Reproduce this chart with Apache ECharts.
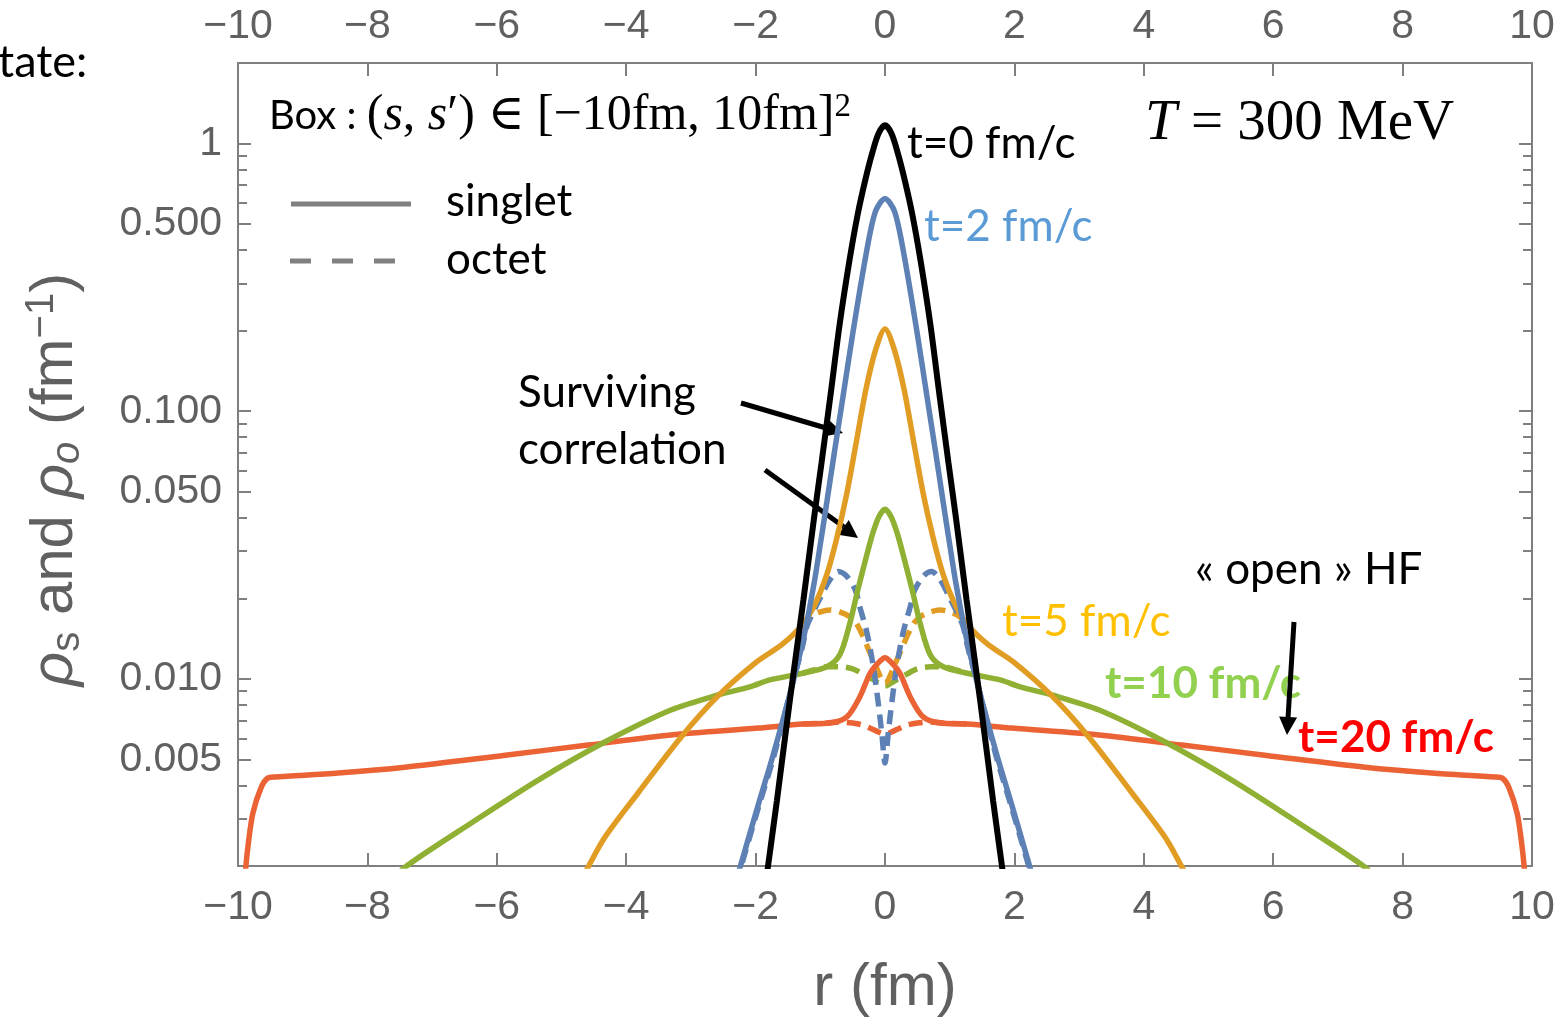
<!DOCTYPE html>
<html>
<head>
<meta charset="utf-8">
<script src="https://cdn.jsdelivr.net/npm/echarts@6/dist/echarts.min.js"></script>
<style>
html, body { margin: 0; padding: 0; background: #fff; }
#chart { width: 1561px; height: 1023px; }
</style>
</head>
<body>
<div id="chart"></div>
<script>
// r (fm) and density (fm^-1)
var rT0 = [-1.9, -1.81, -1.67, -1.47, -1.26, -1.1, -0.98, -0.84, -0.7, -0.55, -0.42, -0.3, -0.2, -0.1, 0,
  0.1, 0.2, 0.3, 0.42, 0.55, 0.7, 0.84, 0.98, 1.1, 1.26, 1.47, 1.67, 1.81, 1.9];
var singletT0 = [0.00136, 0.00198, 0.00352, 0.00834, 0.0198, 0.0394, 0.0644, 0.116, 0.212, 0.365, 0.547, 0.739, 0.917, 1.09, 1.17,
  1.09, 0.917, 0.739, 0.547, 0.365, 0.212, 0.116, 0.0644, 0.0394, 0.0198, 0.00834, 0.00352, 0.00198, 0.00136];

var rT2 = [-2.3, -2.24, -1.96, -1.73, -1.47, -1.27, -1.1, -1.0, -0.9, -0.78, -0.65, -0.5, -0.3, -0.15, 0,
  0.15, 0.3, 0.5, 0.65, 0.78, 0.9, 1.0, 1.1, 1.27, 1.47, 1.73, 1.96, 2.24, 2.3];
var singletT2 = [0.00177, 0.00198, 0.00338, 0.00519, 0.00879, 0.0138, 0.0225, 0.0318, 0.0456, 0.0709, 0.113, 0.194, 0.377, 0.556, 0.622,
  0.556, 0.377, 0.194, 0.113, 0.0709, 0.0456, 0.0318, 0.0225, 0.0138, 0.00879, 0.00519, 0.00338, 0.00198, 0.00177];
var rT2o = [-2.3, -1.96, -1.73, -1.47, -1.27, -1.2, -1.0, -0.85, -0.72, -0.6, -0.46, -0.39, -0.28, -0.18, -0.11, -0.05, 0,
  0.05, 0.11, 0.18, 0.28, 0.39, 0.46, 0.6, 0.72, 0.85, 1.0, 1.2, 1.27, 1.47, 1.73, 1.96, 2.3];
var octetT2 = [0.00172, 0.00329, 0.00502, 0.00879, 0.0134, 0.0159, 0.0201, 0.0235, 0.0252, 0.0243, 0.0215, 0.0186, 0.0149, 0.0111, 0.00834, 0.00628, 0.00485,
  0.00628, 0.00834, 0.0111, 0.0149, 0.0186, 0.0215, 0.0243, 0.0252, 0.0235, 0.0201, 0.0159, 0.0134, 0.00879, 0.00502, 0.00329, 0.00172];

var rT5 = [-4.7, -4.59, -4.33, -3.82, -3.15, -2.58, -1.98, -1.6, -1.3, -1.1, -0.9, -0.75, -0.6, -0.45, -0.3, -0.15, 0,
  0.15, 0.3, 0.45, 0.6, 0.75, 0.9, 1.1, 1.3, 1.6, 1.98, 2.58, 3.15, 3.82, 4.33, 4.59, 4.7];
var singletT5 = [0.00177, 0.00198, 0.00256, 0.00374, 0.00607, 0.00864, 0.0116, 0.0134, 0.0157, 0.0186, 0.0245, 0.0332, 0.048, 0.0752, 0.119, 0.168, 0.203,
  0.168, 0.119, 0.0752, 0.048, 0.0332, 0.0245, 0.0186, 0.0157, 0.0134, 0.0116, 0.00864, 0.00607, 0.00374, 0.00256, 0.00198, 0.00177];
var rT5o = [-1.3, -1.15, -1.0, -0.85, -0.7, -0.55, -0.45, -0.35, -0.25, -0.15, -0.05, 0,
  0.05, 0.15, 0.25, 0.35, 0.45, 0.55, 0.7, 0.85, 1.0, 1.15, 1.3];
var octetT5 = [0.0157, 0.0171, 0.0178, 0.0181, 0.0178, 0.0171, 0.0162, 0.0146, 0.0128, 0.0113, 0.00991, 0.00966,
  0.00991, 0.0113, 0.0128, 0.0146, 0.0162, 0.0171, 0.0178, 0.0181, 0.0178, 0.0171, 0.0157];

var rT10 = [-7.6, -7.42, -6.4, -5.36, -4.33, -3.31, -2.58, -2.09, -1.78, -1.27, -0.9, -0.7, -0.55, -0.42, -0.3, -0.2, -0.1, 0,
  0.1, 0.2, 0.3, 0.42, 0.55, 0.7, 0.9, 1.27, 1.78, 2.09, 2.58, 3.31, 4.33, 5.36, 6.4, 7.42, 7.6];
var singletT10 = [0.00177, 0.00198, 0.00289, 0.00419, 0.00581, 0.00765, 0.00871, 0.00933, 0.00991, 0.0105, 0.0111, 0.0123, 0.0159, 0.0215, 0.0279, 0.0343, 0.0401, 0.043,
  0.0401, 0.0343, 0.0279, 0.0215, 0.0159, 0.0123, 0.0111, 0.0105, 0.00991, 0.00933, 0.00871, 0.00765, 0.00581, 0.00419, 0.00289, 0.00198, 0.00177];
var rT10o = [-1.27, -1.1, -0.9, -0.7, -0.5, -0.33, -0.2, -0.1, 0, 0.1, 0.2, 0.33, 0.5, 0.7, 0.9, 1.1, 1.27];
var octetT10 = [0.0105, 0.0108, 0.0111, 0.0111, 0.0109, 0.0104, 0.01, 0.00966, 0.00941,
  0.00966, 0.01, 0.0104, 0.0109, 0.0111, 0.0111, 0.0108, 0.0105];

var rT20 = [-9.92, -9.88, -9.84, -9.77, -9.64, -9.54, -9.43, -8.45, -7.42, -5.87, -4.59, -3.31, -1.96, -1.27, -0.85, -0.59, -0.39, -0.23, -0.1, 0,
  0.1, 0.23, 0.39, 0.59, 0.85, 1.27, 1.96, 3.31, 4.59, 5.87, 7.42, 8.45, 9.43, 9.54, 9.64, 9.77, 9.84, 9.88, 9.92];
var singletT20 = [0.00149, 0.00198, 0.00243, 0.00315, 0.00394, 0.00426, 0.0043, 0.00445, 0.00468, 0.00519, 0.00566, 0.00617, 0.00655, 0.00678, 0.00684, 0.00721, 0.00856, 0.0105, 0.0115, 0.012,
  0.0115, 0.0105, 0.00856, 0.00721, 0.00684, 0.00678, 0.00655, 0.00617, 0.00566, 0.00519, 0.00468, 0.00445, 0.0043, 0.00426, 0.00394, 0.00315, 0.00243, 0.00198, 0.00149];
var rT20o = [-1.27, -0.9, -0.7, -0.5, -0.35, -0.2, -0.1, 0, 0.1, 0.2, 0.35, 0.5, 0.7, 0.9, 1.27];
var octetT20 = [0.00678, 0.00684, 0.0069, 0.00684, 0.00673, 0.0065, 0.00633, 0.00622,
  0.00633, 0.0065, 0.00673, 0.00684, 0.0069, 0.00684, 0.00678];

var yLabelValues = [0.005, 0.01, 0.05, 0.1, 0.5, 1];
var yLabelTexts = ['0.005', '0.010', '0.050', '0.100', '0.500', '1'];
var yMinorValues = [0.003, 0.004, 0.006, 0.007, 0.008, 0.009, 0.02, 0.03, 0.04, 0.06, 0.07, 0.08, 0.09,
  0.2, 0.3, 0.4, 0.6, 0.7, 0.8, 0.9];

var chart = echarts.init(document.getElementById('chart'));

function pairs(xs, ys) {
  return xs.map(function (x, i) { return [x, ys[i]]; });
}

var gray = '#7f7f7f';
var labelGray = '#606060';
var tickFont = 'Liberation Sans, Arial, sans-serif';
var textFont = 'Lato, Open Sans, sans-serif';
var mathFont = 'Liberation Serif, DejaVu Serif, serif';

function xLabel(v) {
  return v < 0 ? '\u2212' + (-v) : String(v);
}

function yLabel(v) {
  for (var i = 0; i < yLabelValues.length; i++) {
    if (Math.abs(v / yLabelValues[i] - 1) < 1e-6) return yLabelTexts[i];
  }
  return '';
}

function xAxisOf(pos) {
  return {
    type: 'value',
    position: pos,
    min: -10,
    max: 10,
    interval: 2,
    axisLine: { show: true, onZero: false, lineStyle: { color: gray, width: 2 } },
    axisTick: { show: true, inside: true, length: 13, lineStyle: { color: gray, width: 2 } },
    axisLabel: { show: true, formatter: xLabel, color: labelGray, fontFamily: tickFont, fontSize: 41, margin: pos === 'top' ? 16 : 21 },
    splitLine: { show: false }
  };
}

function yAxisOf(pos, withLine, ticks, len, showLabel) {
  return {
    type: 'log',
    logBase: 10,
    position: pos,
    min: 0.002,
    max: 2,
    axisLine: { show: withLine, onZero: false, lineStyle: { color: gray, width: 2 } },
    axisTick: { show: true, inside: true, length: len, customValues: ticks, lineStyle: { color: gray, width: 2 } },
    axisLabel: { show: showLabel, customValues: yLabelValues, formatter: yLabel, color: labelGray, fontFamily: tickFont, fontSize: 41, margin: 16 },
    splitLine: { show: false },
    minorTick: { show: false }
  };
}

function curve(name, xs, ys, color, width, dashed) {
  return {
    name: name,
    type: 'line',
    data: pairs(xs, ys),
    xAxisIndex: 0,
    yAxisIndex: 0,
    showSymbol: false,
    symbol: 'none',
    smooth: 0.3,
    clip: true,
    lineStyle: { color: color, width: width, type: dashed ? [14, 8] : 'solid' },
    emphasis: { disabled: true },
    silent: true
  };
}

var cBlue = '#5e81b5', cOrange = '#e19c24', cGreen = '#8fb032', cRed = '#eb6235';

var yName = '{i|\u03c1}{sub|s}{n| and }{i|\u03c1}{subi|o}{n| (fm}{sup|\u22121}{n|)}';

function txt(s, x, y, font, fill) {
  return {
    type: 'text',
    style: { text: s, x: x, y: y, align: 'left', verticalAlign: 'middle', textAlign: 'left', textVerticalAlign: 'middle', font: font, fill: fill }
  };
}

var option = {
  animation: false,
  backgroundColor: '#fff',
  grid: { left: 238, right: 29, top: 63, bottom: 157, containLabel: false, outerBoundsMode: 'none' },
  xAxis: [
    Object.assign(xAxisOf('bottom'), {
      name: 'r (fm)',
      nameLocation: 'middle',
      nameGap: 92,
      nameMoveOverlap: false,
      nameTextStyle: { color: labelGray, fontFamily: tickFont, fontSize: 60 }
    }),
    xAxisOf('top')
  ],
  yAxis: [
    Object.assign(yAxisOf('left', true, yLabelValues, 13, true), {
      name: yName,
      nameLocation: 'middle',
      nameRotate: 90,
      nameGap: 150,
      nameMoveOverlap: false,
      nameTextStyle: {
        color: labelGray, fontFamily: tickFont, fontSize: 60, padding: [0, 30, 0, 0],
        rich: {
          n: { color: labelGray, fontFamily: tickFont, fontSize: 60 },
          i: { color: labelGray, fontFamily: tickFont, fontSize: 60, fontStyle: 'italic' },
          sub: { color: labelGray, fontFamily: tickFont, fontSize: 40, verticalAlign: 'bottom', padding: [26, 0, 0, 0] },
          subi: { color: labelGray, fontFamily: tickFont, fontSize: 40, fontStyle: 'italic', verticalAlign: 'bottom', padding: [26, 0, 0, 0] },
          sup: { color: labelGray, fontFamily: tickFont, fontSize: 40, verticalAlign: 'top', padding: [0, 0, 26, 0] }
        }
      }
    }),
    yAxisOf('left', false, yMinorValues, 9, false),
    yAxisOf('right', true, yLabelValues, 13, false),
    yAxisOf('right', false, yMinorValues, 9, false)
  ],
  series: [
    curve('t=20 octet', rT20o, octetT20, cRed, 5.5, true),
    curve('t=10 octet', rT10o, octetT10, cGreen, 5.5, true),
    curve('t=5 octet', rT5o, octetT5, cOrange, 5.5, true),
    curve('t=2 octet', rT2o, octetT2, cBlue, 5.5, true),
    curve('t=20 singlet', rT20, singletT20, cRed, 5.5, false),
    curve('t=10 singlet', rT10, singletT10, cGreen, 5.5, false),
    curve('t=5 singlet', rT5, singletT5, cOrange, 5.5, false),
    curve('t=2 singlet', rT2, singletT2, cBlue, 5.5, false),
    curve('t=0 singlet', rT0, singletT0, '#000', 6, false)
  ],
  graphic: [
    // cut-off slide text at the top left
    txt('tate:', -2, 62, '45px ' + textFont, '#000'),
    // box label
    { type: 'text', style: {
      text: '{c|Box : }{m|(}{mi|s}{m|, }{mi|s}{m|\u2032) \u2208 [\u221210fm, 10fm]}{sup|2}',
      x: 269, y: 116, align: 'left', verticalAlign: 'middle', textAlign: 'left', textVerticalAlign: 'middle',
      rich: {
        c: { fontFamily: textFont, fontSize: 40, fill: '#000', color: '#000' },
        m: { fontFamily: mathFont, fontSize: 50, fill: '#000', color: '#000' },
        mi: { fontFamily: mathFont, fontSize: 50, fontStyle: 'italic', fill: '#000', color: '#000' },
        sup: { fontFamily: mathFont, fontSize: 33, verticalAlign: 'top', fill: '#000', color: '#000' }
      }
    } },
    { type: 'text', style: {
      text: '{mi|T}{m| = 300 MeV}',
      x: 1145, y: 124, align: 'left', verticalAlign: 'middle', textAlign: 'left', textVerticalAlign: 'middle',
      rich: {
        m: { fontFamily: mathFont, fontSize: 57, fill: '#000', color: '#000' },
        mi: { fontFamily: mathFont, fontSize: 57, fontStyle: 'italic', fill: '#000', color: '#000' }
      }
    } },
    // legend
    { type: 'line', shape: { x1: 291, y1: 204, x2: 411, y2: 204 }, style: { stroke: '#808080', lineWidth: 5 } },
    { type: 'line', shape: { x1: 290, y1: 261, x2: 396, y2: 261 }, style: { stroke: '#808080', lineWidth: 5, lineDash: [21, 21] } },
    txt('singlet', 446, 202, '44px ' + textFont, '#000'),
    txt('octet', 446, 260, '44px ' + textFont, '#000'),
    // curve labels
    txt('t=0 fm/c', 907, 144, '44px ' + textFont, '#000'),
    txt('t=2 fm/c', 924, 227, '44px ' + textFont, '#5b9bd5'),
    txt('t=5 fm/c', 1002, 622, '44px ' + textFont, '#ffc000'),
    txt('t=10 fm/c', 1105, 684, 'bold 44px ' + textFont, '#92d050'),
    txt('t=20 fm/c', 1298, 738, 'bold 44px ' + textFont, '#ff0000'),
    // annotations
    txt('Surviving', 518, 393, '44px ' + textFont, '#000'),
    txt('correlation', 518, 450, '44px ' + textFont, '#000'),
    txt('\u00ab open \u00bb HF', 1195, 570, '44px ' + textFont, '#000'),
    // arrows
    { type: 'line', shape: { x1: 741, y1: 403, x2: 826, y2: 428 }, style: { stroke: '#000', lineWidth: 5 } },
    { type: 'polygon', shape: { points: [[843, 433], [828.2, 419.3], [823.2, 436.5]] }, style: { fill: '#000' } },
    { type: 'line', shape: { x1: 765, y1: 470, x2: 844, y2: 527 }, style: { stroke: '#000', lineWidth: 5 } },
    { type: 'polygon', shape: { points: [[858, 538], [838.2, 534.7], [848.8, 520.1]] }, style: { fill: '#000' } },
    { type: 'line', shape: { x1: 1294, y1: 622, x2: 1288, y2: 718 }, style: { stroke: '#000', lineWidth: 5 } },
    { type: 'polygon', shape: { points: [[1287, 735], [1279.1, 716.4], [1297.1, 717.6]] }, style: { fill: '#000' } }
  ]
};

chart.setOption(option);
</script>
</body>
</html>
